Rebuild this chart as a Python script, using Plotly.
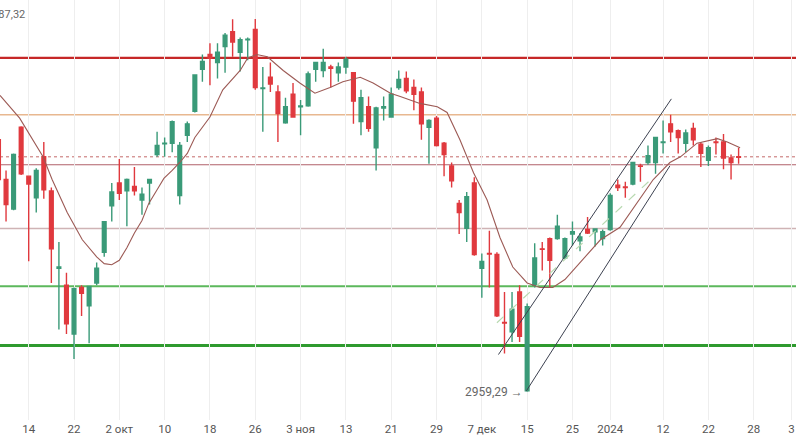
import plotly.graph_objects as go

# candle index (trading sessions), prices
opens = [3181, 3146, 3120, 3192, 3149, 3130, 3166, 3136, 3068, 3053,
         3010, 3051, 3035, 3055, 3082, 3123, 3143, 3136, 3140, 3128,
         3143, 3168, 3177.5, 3178, 3132, 3185, 3206, 3243, 3256, 3249,
         3263, 3276, 3258, 3269, 3278, 3226, 3236, 3223, 3196, 3221,
         3210, 3211, 3243, 3242, 3245, 3240, 3245, 3240, 3197, 3210,
         3174, 3209, 3201, 3227, 3235, 3227, 3223, 3192, 3200, 3178,
         3158, 3125, 3103, 3143, 3068, 3081, 3080, 3020.2, 3012, 3047,
         2960, 3053, 3085, 3094, 3094, 3077, 3098, 3092, 3102, 3100,
         3094, 3102, 3141, 3139.4, 3142, 3158, 3161, 3161, 3178.6, 3195,
         3189, 3178, 3191, 3177, 3163, 3179, 3179, 3165, 3166]
highs = [3187, 3154, 3169, 3193, 3149, 3156, 3179, 3139, 3091, 3064,
         3051, 3053, 3052, 3073, 3109, 3143, 3164, 3147, 3157, 3139,
         3146, 3188, 3183, 3198, 3179, 3197, 3238, 3256, 3266, 3266,
         3275, 3287, 3271, 3271, 3287.32, 3245, 3249, 3229, 3218, 3231,
         3216, 3241, 3249, 3261, 3247, 3249, 3254, 3240, 3225, 3219,
         3210, 3219, 3227, 3242, 3241, 3234, 3227, 3199, 3202, 3179,
         3161, 3128, 3135, 3148, 3081, 3101, 3082, 3047, 3047, 3053,
         3037, 3090, 3091, 3095, 3115, 3095, 3109, 3099, 3113, 3103,
         3102, 3134, 3146, 3144, 3161.5, 3160, 3176, 3183.5, 3198, 3203,
         3190, 3190, 3196, 3179, 3176, 3183, 3186, 3168, 3174]
lows = [3139, 3109, 3119, 3150, 3074, 3117, 3129, 3055, 3014, 3010,
        2988, 3026, 3002, 3053, 3078, 3109, 3128, 3105, 3132, 3115,
        3124, 3166, 3166, 3170, 3124, 3179, 3205, 3232, 3229, 3235,
        3240, 3254, 3241, 3251, 3225, 3188, 3223, 3179, 3195, 3201,
        3185, 3210, 3232, 3236, 3227, 3232, 3239, 3195, 3185, 3188,
        3154, 3198, 3201, 3225, 3222, 3207, 3181, 3160, 3175, 3149,
        3139, 3098, 3091, 3079, 3042, 3051, 3025, 2993, 3003, 3003,
        2959.29, 3051, 3066, 3051, 3093, 3076, 3088, 3083, 3098, 3087,
        3088, 3101, 3136, 3130, 3141, 3144, 3159, 3151, 3169, 3179,
        3169, 3170, 3176, 3157, 3158, 3168, 3155, 3146, 3160]
closes = [3146, 3124, 3168, 3151, 3142, 3154, 3137, 3085, 3069, 3019,
          3050, 3046, 3052, 3068, 3109, 3135, 3134, 3146, 3136, 3133,
          3146, 3176, 3178, 3197, 3176, 3195, 3238, 3250, 3253, 3258,
          3273, 3267, 3269, 3269.5, 3227, 3226.6, 3230, 3204, 3210, 3201,
          3210.7, 3239, 3249, 3249, 3244, 3245, 3252, 3215, 3218, 3191,
          3209, 3210, 3221, 3234, 3224, 3221, 3195, 3198, 3176, 3168,
          3145, 3117, 3131, 3080, 3074, 3080.5, 3026, 3019.8, 3032, 3008,
          3034, 3077, 3084.6, 3075, 3105, 3094, 3100, 3095.5, 3099, 3102.5,
          3100, 3132, 3139, 3139, 3161, 3157.6, 3167, 3183, 3179, 3188,
          3183, 3187, 3181, 3169, 3174, 3178.6, 3165, 3161, 3165.6]

# moving average as drawn on the reference
ma_x = [0.2, 1.9, 2.8, 5.9, 7.1, 9.1, 11.1, 13.0, 14.0, 15.0, 16.0, 17.0, 18.0,
        19.0, 19.9, 21.0, 21.9, 23.0, 24.0, 25.0, 26.0, 28.0, 29.7, 32.0, 33.0,
        34.2, 35.6, 37.7, 39.9, 41.9, 43.9, 45.6, 47.9, 49.6, 51.9, 53.2, 55.8,
        58.1, 59.4, 61.1, 62.9, 64.7, 66.4, 68.1, 70.0, 71.7, 73.4, 75.0, 77.0,
        79.7, 82.3, 86.7, 88.9, 90.3, 92.5, 95.2, 96.5, 98.2]
ma_y = [3220, 3207, 3200, 3166, 3146, 3117, 3093, 3078, 3072, 3071, 3075, 3086,
        3099, 3110, 3125, 3137, 3147, 3154, 3161, 3169, 3183, 3201, 3225, 3242,
        3253, 3256, 3254, 3242, 3231, 3222, 3227, 3232, 3236, 3231, 3222, 3219,
        3213, 3210, 3205, 3181, 3152, 3128, 3095, 3069, 3055, 3051, 3051, 3058,
        3073, 3093, 3104, 3146, 3161, 3166, 3178, 3182, 3179, 3174]

levels = [3253, 3203, 3166, 3159, 3103, 3052, 3000]
tick_pos = [4, 10, 16, 22, 28, 34, 40, 46, 52, 58, 64, 70, 76, 81, 88, 94, 100, 105]
tick_text = ['14', '22', '2 окт', '10', '18', '26', '3 ноя', '13', '21', '29',
             '7 дек', '15', '25', '2024', '12', '22', '28', '3']

level_styles = [('#c62828', 2.2, 'solid'), ('#e8b890', 1.5, 'solid'),
                ('#c46a6a', 1, 'dot'), ('#b0606a', 1.2, 'solid'),
                ('#cfb3b5', 1.5, 'solid'), ('#5cb85c', 2, 'solid'),
                ('#2e9a2e', 3, 'solid')]

fig = go.Figure()

for lvl, (col, w, dash) in zip(levels, level_styles):
    fig.add_hline(y=lvl, line=dict(color=col, width=w, dash=dash), layer='below')

fig.add_trace(go.Candlestick(
    x=list(range(len(opens))), open=opens, high=highs, low=lows, close=closes,
    increasing=dict(line=dict(color='#3a9a78', width=1.4), fillcolor='#3a9a78'),
    decreasing=dict(line=dict(color='#e0393e', width=1.4), fillcolor='#e0393e'),
    whiskerwidth=0, showlegend=False))

fig.add_trace(go.Scatter(x=ma_x, y=ma_y, mode='lines', line=dict(color='#9c5a55', width=1.1),
                         showlegend=False))

# channel and projection lines
fig.add_trace(go.Scatter(x=[66.2, 89.1], y=[2992, 3217], mode='lines',
                         line=dict(color='#3c4150', width=1), showlegend=False))
fig.add_trace(go.Scatter(x=[69.9, 88.9], y=[2960, 3158], mode='lines',
                         line=dict(color='#3c4150', width=1), showlegend=False))
fig.add_trace(go.Scatter(x=[66.0, 86.7], y=[3020, 3148], mode='lines',
                         line=dict(color='#b8d9b0', width=1.2, dash='dash'), showlegend=False))

fig.add_annotation(x=70, y=2959.29, text='2959,29 →', showarrow=False, xanchor='right',
                   xshift=-2, font=dict(size=12, color='#666'))
fig.add_annotation(x=0, y=3287.32, xref='paper', text='3287,32', showarrow=False,
                   xanchor='right', xshift=27, yshift=4, font=dict(size=11, color='#666'))

fig.update_layout(
    width=796, height=448,
    margin=dict(l=0, r=0, t=0, b=28, autoexpand=False),
    paper_bgcolor='#ffffff', plot_bgcolor='#ffffff',
    font=dict(family='Roboto, sans-serif', color='#555'),
    xaxis=dict(range=[0.2, 105.6], tickvals=tick_pos, ticktext=tick_text,
               showgrid=True, gridcolor='#eeeeee', zeroline=False,
               rangeslider=dict(visible=False), tickfont=dict(size=11.5), ticks=''),
    yaxis=dict(range=[2934.4, 3304], showticklabels=False, showgrid=False,
               zeroline=False),
)

fig.write_html("out.html", config={'displayModeBar': False},
               post_script="document.body.style.margin='0';")
